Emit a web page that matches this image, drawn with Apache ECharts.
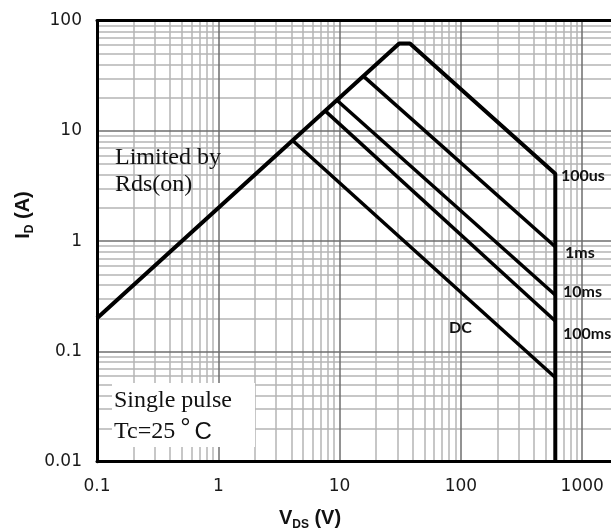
<!DOCTYPE html>
<html>
<head>
<meta charset="utf-8">
<script src="https://cdn.jsdelivr.net/npm/echarts@6/dist/echarts.min.js"></script>
<style>
html, body { margin: 0; padding: 0; background: #fff; }
#chart { width: 611px; height: 532px; }
</style>
</head>
<body>
<div id="chart"></div>
<script>
// axis ranges
let xMin = 0.1, xMax = 10000;
let yMin = 0.01, yMax = 100;

// SOA outline: Rds(on) limit -> current limit -> 100us -> 600 V wall
let envelopeV = [0.1, 31, 38, 600, 600];
let envelopeI = [0.2, 62, 62, 4.1, 0.01];

// other pulse widths, from the Rds(on) line to 600 V
let pulseNames = ["1ms", "10ms", "100ms", "DC"];
let pulseV = [[15.7, 600], [9.5, 600], [7.6, 600], [4.1, 600]];
let pulseI = [[31.4, 0.89], [19, 0.325], [15.2, 0.189], [8.2, 0.058]];

// minor grid multiples per decade
let minorMult = [2, 3, 4, 5, 6, 7, 8, 9];
let xDecades = [0.1, 1, 10, 100, 1000];
let yDecades = [0.01, 0.1, 1, 10];

function zip(xs, ys) {
  return xs.map((x, i) => [x, ys[i]]);
}

let minorLines = [];
for (let d of xDecades) {
  for (let m of minorMult) minorLines.push({ xAxis: +(d * m).toPrecision(6) });
}
for (let d of yDecades) {
  for (let m of minorMult) minorLines.push({ yAxis: +(d * m).toPrecision(6) });
}

let curveStyle = { color: "#000", width: 3.5 };

let series = [
  {
    type: "line",
    data: [[1, 1]],
    showSymbol: false,
    lineStyle: { opacity: 0 },
    silent: true,
    z: 1,
    markLine: {
      silent: true,
      symbol: ["none", "none"],
      label: { show: false },
      lineStyle: { type: "solid", color: "#b4b4b4", width: 1.5 },
      emphasis: { disabled: true },
      data: minorLines
    }
  },
  {
    name: "100us",
    type: "line",
    data: zip(envelopeV, envelopeI),
    showSymbol: false,
    lineStyle: { color: "#000", width: 4 },
    z: 20
  }
];

pulseNames.forEach((name, i) => {
  series.push({
    name: name,
    type: "line",
    data: zip(pulseV[i], pulseI[i]),
    showSymbol: false,
    lineStyle: curveStyle,
    z: 20
  });
});

function fmt(v) {
  return String(+Number(v).toPrecision(3));
}

let serif = '"Liberation Serif", "Times New Roman", serif';
let sans = '"Liberation Sans", Arial, sans-serif';
let tagFont = 'Lato, "Open Sans", sans-serif';
let tickFont = '"DejaVu Sans", Verdana, sans-serif';

function txt(x, y, text, extra) {
  return {
    type: "text",
    x: x,
    y: y,
    z: 30,
    style: Object.assign({
      text: text,
      fill: "#000",
      align: "left",
      textAlign: "left",
      verticalAlign: "middle",
      textVerticalAlign: "middle"
    }, extra)
  };
}

let tagStyle = { fontFamily: tagFont, fontSize: 16, fontWeight: "bold", fill: "#111" };
let noteStyle = { fontFamily: serif, fontSize: 24, fill: "#111" };
let titleRich = {
  m: { fontFamily: sans, fontSize: 20, fontWeight: "bold", fill: "#111", verticalAlign: "bottom" },
  b: { fontFamily: sans, fontSize: 12, fontWeight: "bold", fill: "#111", verticalAlign: "bottom", padding: [0, 0, -3, 0] }
};

let frameLine = { show: true, lineStyle: { color: "#000", width: 3 } };
let majorLine = { show: true, lineStyle: { color: "#6e6e6e", width: 1.5 } };

var myChart = echarts.init(document.getElementById("chart"));
myChart.setOption({
  animation: false,
  backgroundColor: "#fff",
  grid: {
    left: 97,
    top: 20.7,
    width: 606.5,
    height: 441,
    outerBoundsMode: "none",
    containLabel: false,
    show: false
  },
  xAxis: [
    {
      type: "log",
      logBase: 10,
      min: xMin,
      max: xMax,
      z: 10,
      axisLine: frameLine,
      axisTick: { show: false },
      axisLabel: {
        fontFamily: tickFont,
        fontSize: 17,
        color: "#1a1a1a",
        margin: 16,
        formatter: fmt
      },
      splitLine: majorLine
    },
    {
      // top frame edge only
      type: "log",
      logBase: 10,
      min: xMin,
      max: xMax,
      position: "top",
      z: 10,
      axisLine: frameLine,
      axisTick: { show: false },
      axisLabel: { show: false },
      splitLine: { show: false }
    }
  ],
  yAxis: {
    type: "log",
    logBase: 10,
    min: yMin,
    max: yMax,
    z: 10,
    axisLine: frameLine,
    axisTick: { show: false },
    axisLabel: {
      fontFamily: tickFont,
      fontSize: 17,
      color: "#1a1a1a",
      margin: 15,
      formatter: fmt
    },
    splitLine: majorLine
  },
  series: series,
  graphic: [
    {
      type: "rect",
      z: 25,
      shape: { x: 112, y: 383, width: 143, height: 64 },
      style: { fill: "#fff" }
    },
    txt(115, 158, "Limited by", noteStyle),
    txt(115, 185, "Rds(on)", noteStyle),
    txt(114, 401, "Single pulse", noteStyle),
    txt(114, 432, "{s|Tc=25}{d|°}{c|C}", {
      rich: {
        s: { fontFamily: serif, fontSize: 24, fill: "#111" },
        d: { fontFamily: sans, fontSize: 26, fill: "#111", padding: [0, 4, 6, 5] },
        c: { fontFamily: sans, fontSize: 24, fill: "#111" }
      }
    }),
    txt(561, 176, "100us", tagStyle),
    txt(565, 253, "1ms", tagStyle),
    txt(563, 292, "10ms", tagStyle),
    txt(563, 334, "100ms", tagStyle),
    txt(449, 328, "DC", tagStyle),
    txt(310, 518, "{m|V}{b|DS}{m| (V)}", { align: "center", textAlign: "center", rich: titleRich }),
    Object.assign(
      txt(23, 215, "{m|I}{b|D}{m| (A)}", { align: "center", textAlign: "center", rich: titleRich }),
      { rotation: Math.PI / 2 }
    )
  ]
});
</script>
</body>
</html>
